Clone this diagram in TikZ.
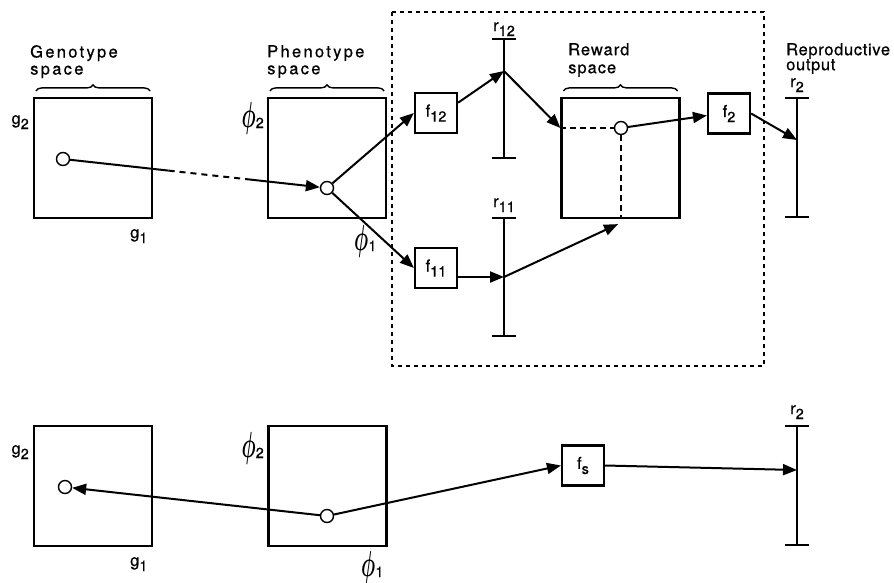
\documentclass[tikz,border=0pt]{standalone}
\usepackage{bm}
\usepackage{fontspec}
\setmainfont{TeX Gyre Heros}[FakeBold=0.6]
\usepackage{tikz}
\usetikzlibrary{arrows.meta, calc, positioning, decorations.pathreplacing}
\tikzset{>={Triangle[length=14pt,width=11pt]}}
% letter with a lowered index
\newcommand{\sub}[2]{#1\raisebox{-5pt}{\fontsize{14.5}{14}\selectfont #2}}
\newcommand{\phisub}[1]{\sub{\raisebox{-4pt}{\scalebox{1.15}[2.1]{\(\bm{\phi}\)}}}{#1}}

\begin{document}
\begin{tikzpicture}[x=1pt,y=-1pt,
    spacebox/.style={draw,line width=2.2pt,minimum width=118pt,minimum height=120pt,inner sep=0pt},
    funcbox/.style={draw,line width=2.2pt,minimum width=42pt,minimum height=40pt,inner sep=0pt,font=\fontsize{16.5}{16}\selectfont},
    state/.style={circle,draw,line width=1.4pt,minimum size=13pt,inner sep=0pt,fill=white},
    link/.style={->,line width=2pt},
    bar/.style={line width=2.2pt},
    axislabel/.style={inner sep=0pt,font=\fontsize{16.5}{16}\selectfont},
    heading/.style={anchor=north west,align=left,inner sep=0pt,font=\fontsize{16.5}{17}\selectfont\addfontfeature{LetterSpace=14}},
    smallheading/.style={anchor=north west,align=left,inner sep=0pt,font=\fontsize{16.5}{15}\selectfont\addfontfeature{LetterSpace=4}},
    spacebrace/.style={decorate,decoration={brace,amplitude=6pt},line width=1.4pt}]
    \useasboundingbox (0,0) rectangle (894,582);
    % group of the reward stage
    \draw[line width=1.3pt,dash pattern=on 4pt off 4pt] (392,12) rectangle (764,366);
    % spaces
    \node[spacebox] (geno) at (93,158) {};
    \node[spacebox] (pheno) at (327,158) {};
    \node[spacebox] (reward) at (620.5,158) {};
    \node[spacebox] (genoB) at (93,486) {};
    \node[spacebox] (phenoB) at (327.5,486) {};
    \node[heading] (genoT) at (30,45) {Genotype\\space};
    \node[heading] (phenoT) at (267,45) {Phenotype\\space};
    \node[smallheading,font=\fontsize{16.5}{18}\selectfont\addfontfeature{LetterSpace=6}] (rewardT) at (568,43) {Reward\\space};
    \node[smallheading] (reproT) at (786,43) {Reproductive\\output};
    \foreach \sp in {geno,pheno,reward}
        \draw[spacebrace] ([xshift=3pt,yshift=6pt]\sp.north west) -- ([xshift=-3pt,yshift=6pt]\sp.north east);
    % axis labels
    \node[axislabel,anchor=base east] (g2L) at (29,124) {\sub{g}{2}};
    \node[axislabel,anchor=base west] (g1L) at (130,238) {\sub{g}{1}};
    \node[axislabel,anchor=base east] (phi2L) at (264,123) {\phisub{2}};
    \node[axislabel,anchor=base west] (phi1L) at (354,246) {\phisub{1}};
    \node[axislabel,anchor=base east] (g2BL) at (29,454) {\sub{g}{2}};
    \node[axislabel,anchor=base west] (g1BL) at (130,566) {\sub{g}{1}};
    \node[axislabel,anchor=base east] (phi2BL) at (264,453) {\phisub{2}};
    \node[axislabel,anchor=base west] (phi1BL) at (361,572) {\phisub{1}};
    % states
    \node[state] (genoS) at (63,159) {};
    \node[state] (phenoS) at (327,188) {};
    \node[state] (rewardS) at (621,128) {};
    \node[state] (genoBS) at (65,487) {};
    \node[state] (phenoBS) at (327,516) {};
    % functions
    \node[funcbox] (f12) at (436,113) {\sub{f}{12}};
    \node[funcbox] (f11) at (436,268) {\sub{f}{11}};
    \node[funcbox] (f2) at (729,113.5) {\sub{f}{2}};
    \node[funcbox] (fs) at (583,465.5) {\sub{f}{s}};
    % reward scales
    \coordinate (r12t) at (504,39);  \coordinate (r12b) at (504,158);
    \coordinate (r11t) at (504,218); \coordinate (r11b) at (504,336);
    \coordinate (r2t) at (797,98);   \coordinate (r2b) at (797,217);
    \coordinate (rBt) at (797,426);  \coordinate (rBb) at (797,545);
    \foreach \rb in {r12,r11,r2,rB}
        \draw[bar] (\rb t) -- (\rb b) ([xshift=-12pt]\rb t) -- ([xshift=12pt]\rb t) ([xshift=-12pt]\rb b) -- ([xshift=12pt]\rb b);
    \coordinate (r12m) at (504,71);
    \coordinate (r11m) at (504,277);
    \coordinate (r2m) at (797,140);
    \coordinate (rBm) at (797,470);
    \node[axislabel,anchor=base] (r12L) at (504,31) {\sub{r}{12}};
    \node[axislabel,anchor=base] (r11L) at (504,207) {\sub{r}{11}};
    \node[axislabel,anchor=base] (r2L) at (797,87) {\sub{r}{2}};
    \node[axislabel,anchor=base] (rBL) at (797,414) {\sub{r}{2}};
    % connectors
    \draw[line width=2pt] (genoS) -- ($(genoS)!0.4!(phenoS)$);
    \draw[line width=2pt,dash pattern=on 6pt off 5pt] ($(genoS)!0.4!(phenoS)$) -- ($(genoS)!0.69!(phenoS)$);
    \draw[link] ($(genoS)!0.69!(phenoS)$) -- (phenoS);
    \draw[link] (phenoS) -- (f12.west);
    \draw[link] (phenoS) -- (f11.west);
    \draw[link] (f12.25) -- (r12m);
    \draw[link] (f11.east |- r11m) -- (r11m);
    \draw[link] (r12m) -- (reward.west |- rewardS);
    \draw[link] (r11m) -- ([xshift=-3pt,yshift=-5pt]rewardS |- reward.south);
    \draw[line width=2pt,dash pattern=on 6pt off 4pt] (reward.west |- rewardS) -- (rewardS);
    \draw[line width=2pt,dash pattern=on 6pt off 4pt] (rewardS) -- (rewardS |- reward.south);
    \draw[link] (rewardS) -- ([yshift=-2pt]f2.west);
    \draw[link] (f2.east) -- (r2m);
    \draw[link] (phenoBS) -- (genoBS);
    \draw[link] (phenoBS) -- (fs.west);
    \draw[link] (fs.east) -- (rBm);
\end{tikzpicture}
\end{document}
